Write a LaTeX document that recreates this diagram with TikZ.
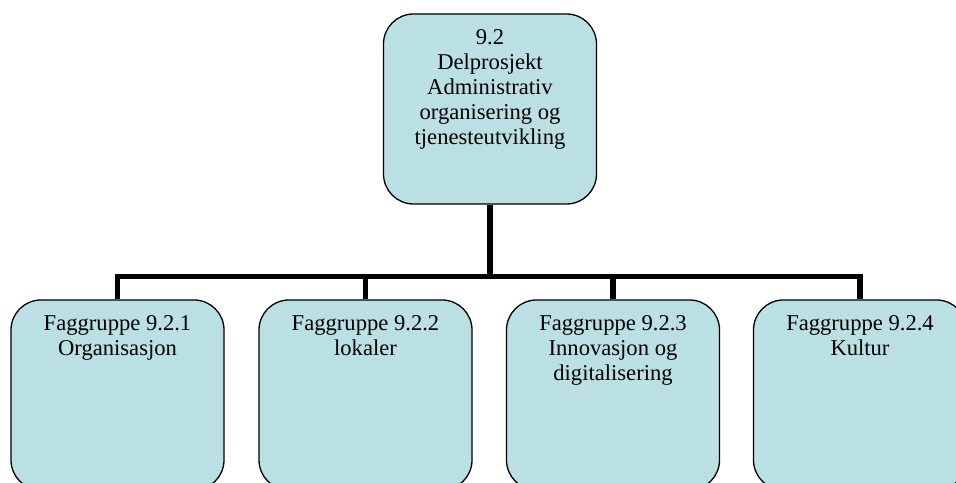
\documentclass[tikz,border=0pt]{standalone}
\usepackage{fontspec}
\setmainfont{Liberation Serif}
\usetikzlibrary{positioning, calc}
\definecolor{boxfill}{RGB}{187,224,227}
\begin{document}
\begin{tikzpicture}[x=1bp, y=1bp]
\tikzset{orgbox/.style={draw=black, line width=1.3bp, fill=boxfill, rounded corners=30bp, minimum width=213bp, minimum height=190bp, inner sep=0pt}, boxtext/.style={align=center, font=\fontsize{22.6bp}{25bp}\selectfont, text=black, inner sep=0pt}, linkstyle/.style={line width=5.5bp, black}}
\useasboundingbox (0,0) rectangle (956,483);
\clip (0,0) rectangle (956,483);
\node[orgbox] (prosjekt) at (490,374) {};
\node[boxtext, below=16bp of prosjekt.north] (prosjekttext) {9.2\\Delprosjekt\\Administrativ\\organisering og\\tjenesteutvikling};
\node[orgbox] (gruppe1) at (117.5,88) {};
\node[orgbox] (gruppe2) at (365.5,88) {};
\node[orgbox] (gruppe3) at (613,88) {};
\node[orgbox] (gruppe4) at (860,88) {};
\node[boxtext, below=16bp of gruppe1.north] (gruppe1text) {Faggruppe 9.2.1\\Organisasjon};
\node[boxtext, below=16bp of gruppe2.north] (gruppe2text) {Faggruppe 9.2.2\\lokaler};
\node[boxtext, below=16bp of gruppe3.north] (gruppe3text) {Faggruppe 9.2.3\\Innovasjon og\\digitalisering};
\node[boxtext, below=16bp of gruppe4.north] (gruppe4text) {Faggruppe 9.2.4\\Kultur};
% connectors
\coordinate (bus) at ($(prosjekt.south) + (0,-72)$);
\draw[linkstyle] (prosjekt.south) -- (bus);
\draw[linkstyle] (gruppe1.north) |- (bus) -| (gruppe4.north);
\draw[linkstyle] (gruppe2.north) -- (gruppe2.north |- bus);
\draw[linkstyle] (gruppe3.north) -- (gruppe3.north |- bus);
\end{tikzpicture}
\end{document}
